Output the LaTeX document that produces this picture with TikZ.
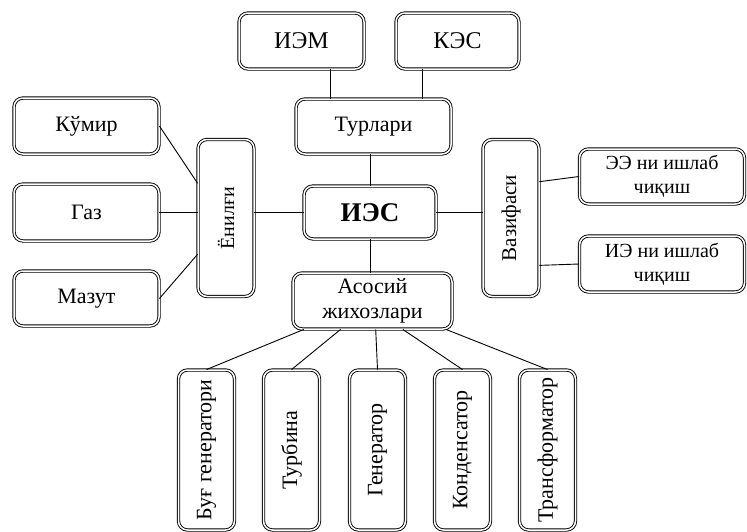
\documentclass[tikz,border=0pt]{standalone}
\usepackage{fontspec}
\setmainfont{Liberation Serif}
\usepackage{tikz}
\usetikzlibrary{calc,positioning}
\tikzset{
  iesbox/.style={draw=black, double=white, double distance=1.5pt,
    line width=0.9pt, rounded corners=9pt, fill=white, align=center,
    inner sep=2pt, font=\fontsize{22}{25}\selectfont},
  iesvbox/.style={iesbox, minimum width=56pt, minimum height=157pt},
  ieslink/.style={line width=0.9pt, black},
}
\newcommand{\vtext}[1]{\rotatebox{90}{#1}}

\begin{document}
\begin{tikzpicture}[x=1pt, y=-1pt]
\useasboundingbox (0,0) rectangle (747,531);
\clip (0,0) rectangle (747,531);

%% Centre and types
\node[iesbox, minimum width=132pt, minimum height=53pt, font=\fontsize{27}{30}\selectfont\bfseries] (ies) at (370,212.5) {ИЭС};
\node[iesbox, minimum width=155pt, minimum height=55pt] (turlari) at (373.5,126.5) {Турлари};
\node[iesbox, minimum width=125pt, minimum height=56pt, font=\fontsize{24}{27}\selectfont] (iem) at (301.5,41) {ИЭМ};
\node[iesbox, minimum width=123pt, minimum height=56pt, font=\fontsize{24}{27}\selectfont] (kes) at (457.5,41) {КЭС};

%% Fuels
\node[iesvbox, font=\fontsize{20}{24}\selectfont] (enilgi) at (226,218) {\vtext{Ёнилғи}};
\node[iesbox, minimum width=145pt, minimum height=56pt] (kumir) at (86.5,126) {Кўмир};
\node[iesbox, minimum width=145pt, minimum height=57pt] (gaz)   at (86.5,212.5) {Газ};
\node[iesbox, minimum width=145pt, minimum height=55pt] (mazut) at (86.5,298.5) {Мазут};

%% Functions
\node[iesvbox, font=\fontsize{21}{24}\selectfont] (vazifasi) at (511,218) {\vtext{Вазифаси}};
\node[iesbox, minimum width=165pt, minimum height=55pt, font=\fontsize{20}{24}\selectfont] (ee) at (662,176.5) {ЭЭ ни ишлаб\\чиқиш};
\node[iesbox, minimum width=165pt, minimum height=56pt, font=\fontsize{20}{24}\selectfont] (ie) at (662,264) {ИЭ ни ишлаб\\чиқиш};

%% Main equipment
\node[iesbox, minimum width=159pt, minimum height=56pt] (asosiy) at (372.5,301) {Асосий\\жихозлари};
\node[iesbox, minimum width=56pt, minimum height=160pt] (bug)    at (206.5,450) {\vtext{Буғ генератори}};
\node[iesbox, minimum width=56pt, minimum height=160pt] (turb)   at (291.5,450) {\vtext{Турбина}};
\node[iesbox, minimum width=56pt, minimum height=160pt] (gener)  at (377.5,450) {\vtext{Генератор}};
\node[iesbox, minimum width=56pt, minimum height=160pt] (kond)   at (462.5,450) {\vtext{Конденсатор}};
\node[iesbox, minimum width=56pt, minimum height=160pt] (transf) at (547.5,450) {\vtext{Трансформатор}};

%% Links
\coordinate (iemfoot) at ($(iem.south west)!0.73!(iem.south east)$);
\coordinate (kesfoot) at ($(kes.south west)!0.22!(kes.south east)$);
\draw[ieslink] (iemfoot) -- (iemfoot |- turlari.north);
\draw[ieslink] (kesfoot) -- (kesfoot |- turlari.north);
\draw[ieslink] (turlari.south -| ies.north) -- (ies.north);
\draw[ieslink] (ies.west) -- (ies.west -| enilgi.east);
\draw[ieslink] (ies.east) -- (ies.east -| vazifasi.west);
\draw[ieslink] (ies.south) -- (ies.south |- asosiy.north);

\draw[ieslink] (kumir.east) -- ($(enilgi.north west)!0.28!(enilgi.south west)$);
\draw[ieslink] (gaz.east) -- (gaz.east -| enilgi.west);
\draw[ieslink] (mazut.east) -- ($(enilgi.north west)!0.73!(enilgi.south west)$);

\draw[ieslink] ($(vazifasi.north east)!0.27!(vazifasi.south east)$) -- (ee.west);
\draw[ieslink] ($(vazifasi.north east)!0.80!(vazifasi.south east)$) -- (ie.west);

\draw[ieslink] ($(asosiy.south west)!0.07!(asosiy.south east)$) -- (bug.north);
\draw[ieslink] ($(asosiy.south west)!0.30!(asosiy.south east)$) -- (turb.north);
\draw[ieslink] ($(asosiy.south west)!0.52!(asosiy.south east)$) -- (gener.north);
\draw[ieslink] ($(asosiy.south west)!0.69!(asosiy.south east)$) -- (kond.north);
\draw[ieslink] ($(asosiy.south west)!0.96!(asosiy.south east)$) -- (transf.north);
\end{tikzpicture}
\end{document}
